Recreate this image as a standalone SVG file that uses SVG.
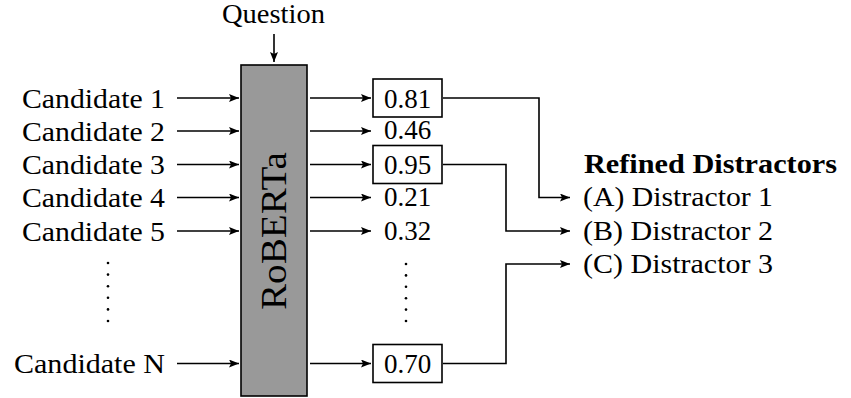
<svg xmlns="http://www.w3.org/2000/svg" width="851" height="398" viewBox="0 0 851 398" font-family="'Liberation Serif', 'DejaVu Serif', serif">
<style>
text{font-family:"Liberation Serif","DejaVu Serif",serif;font-size:27px;fill:#000}
.end{text-anchor:end}
.mid{text-anchor:middle}
.c{fill:none;stroke:#000;stroke-width:1.6}
.box{fill:#fff;stroke:#000;stroke-width:1.6}
.dot{fill:#000}
</style>
<defs>
<marker id="ah" viewBox="0 0 10 8" refX="10" refY="4" markerWidth="10" markerHeight="8" markerUnits="userSpaceOnUse" orient="auto">
<path d="M0,0 L10,4 L0,8 L2,4 Z" fill="#000"/>
</marker>
</defs>

<g id="question">
<text class="mid" x="273.5" y="23" textLength="103" lengthAdjust="spacingAndGlyphs">Question</text>
</g>

<g id="roberta">
<rect x="241" y="65" width="66" height="331" fill="#999" stroke="#000" stroke-width="1.6"/>
<text class="mid" transform="translate(286,231) rotate(-90)" style="font-size:35px" textLength="158" lengthAdjust="spacingAndGlyphs">RoBERTa</text>
</g>

<g id="candidates">
<text class="end" x="165" y="107.5" textLength="143" lengthAdjust="spacingAndGlyphs">Candidate 1</text>
<text class="end" x="165" y="140.5" textLength="143" lengthAdjust="spacingAndGlyphs">Candidate 2</text>
<text class="end" x="165" y="174" textLength="143" lengthAdjust="spacingAndGlyphs">Candidate 3</text>
<text class="end" x="165" y="207" textLength="143" lengthAdjust="spacingAndGlyphs">Candidate 4</text>
<text class="end" x="165" y="240.5" textLength="143" lengthAdjust="spacingAndGlyphs">Candidate 5</text>
<text class="end" x="165" y="373" textLength="151" lengthAdjust="spacingAndGlyphs">Candidate N</text>
<g class="dot">
<circle cx="108" cy="263" r="1.3"/><circle cx="108" cy="274.6" r="1.3"/><circle cx="108" cy="286.2" r="1.3"/>
<circle cx="108" cy="297.8" r="1.3"/><circle cx="108" cy="309.4" r="1.3"/><circle cx="108" cy="321" r="1.3"/>
</g>
</g>

<g id="scores">
<rect class="box" x="373" y="79" width="69" height="38"/>
<text class="mid" x="407.5" y="107.5">0.81</text>
<text class="mid" x="407.5" y="139">0.46</text>
<rect class="box" x="373" y="145.5" width="69" height="38"/>
<text class="mid" x="407.5" y="174">0.95</text>
<text class="mid" x="407.5" y="206">0.21</text>
<text class="mid" x="407.5" y="240">0.32</text>
<rect class="box" x="373" y="344.5" width="69" height="38"/>
<text class="mid" x="407.5" y="373">0.70</text>
<g class="dot">
<circle cx="406" cy="264" r="1.3"/><circle cx="406" cy="275.4" r="1.3"/><circle cx="406" cy="286.8" r="1.3"/>
<circle cx="406" cy="298.2" r="1.3"/><circle cx="406" cy="309.6" r="1.3"/><circle cx="406" cy="321" r="1.3"/>
</g>
</g>

<g id="distractors">
<text x="584" y="173" style="font-weight:bold" textLength="253" lengthAdjust="spacingAndGlyphs">Refined Distractors</text>
<text x="583" y="206" textLength="190" lengthAdjust="spacingAndGlyphs">(A) Distractor 1</text>
<text x="583" y="240" textLength="190" lengthAdjust="spacingAndGlyphs">(B) Distractor 2</text>
<text x="583" y="273" textLength="190" lengthAdjust="spacingAndGlyphs">(C) Distractor 3</text>
</g>

<g id="connectors" class="c">
<line x1="274" y1="34" x2="274" y2="62" marker-end="url(#ah)"/>
<line x1="177" y1="98" x2="239" y2="98" marker-end="url(#ah)"/>
<line x1="177" y1="131" x2="239" y2="131" marker-end="url(#ah)"/>
<line x1="177" y1="164.5" x2="239" y2="164.5" marker-end="url(#ah)"/>
<line x1="177" y1="197.5" x2="239" y2="197.5" marker-end="url(#ah)"/>
<line x1="177" y1="231" x2="239" y2="231" marker-end="url(#ah)"/>
<line x1="177" y1="363.5" x2="239" y2="363.5" marker-end="url(#ah)"/>
<line x1="310" y1="98" x2="371" y2="98" marker-end="url(#ah)"/>
<line x1="310" y1="131" x2="371" y2="131" marker-end="url(#ah)"/>
<line x1="310" y1="164.5" x2="371" y2="164.5" marker-end="url(#ah)"/>
<line x1="310" y1="197.5" x2="371" y2="197.5" marker-end="url(#ah)"/>
<line x1="310" y1="231" x2="371" y2="231" marker-end="url(#ah)"/>
<line x1="310" y1="363.5" x2="371" y2="363.5" marker-end="url(#ah)"/>
<polyline points="443,98 539,98 539,197.5 570,197.5" marker-end="url(#ah)"/>
<polyline points="443,164.5 506,164.5 506,231 570,231" marker-end="url(#ah)"/>
<polyline points="443,363.5 506,363.5 506,264 570,264" marker-end="url(#ah)"/>
</g>
</svg>
